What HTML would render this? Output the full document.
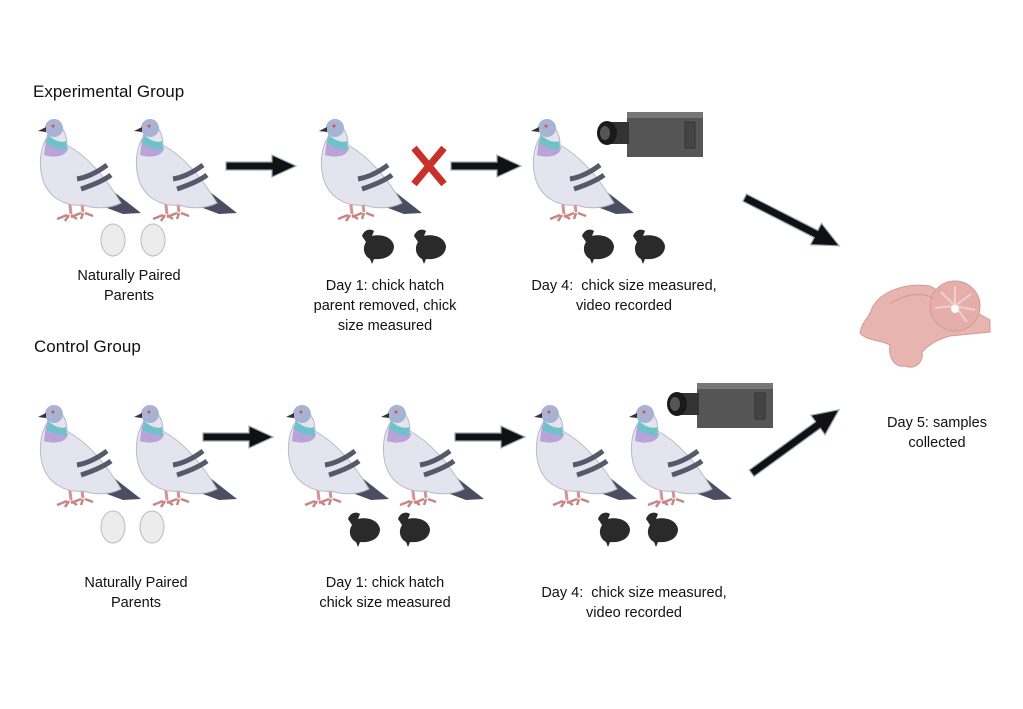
<!DOCTYPE html>
<html><head><style>
body{margin:0;background:#fff;width:1023px;height:709px;overflow:hidden;position:relative;font-family:"Liberation Sans",sans-serif;color:#111}
.t{position:absolute;font-size:14.5px;text-align:center;line-height:20px;white-space:nowrap;transform:translateX(-50%)}
.h{position:absolute;font-size:17px}
</style></head><body>
<svg width="1023" height="709" style="position:absolute;left:0;top:0">
<defs>
<g id="p">
 <path d="M30,98 l-10,4 M32,98 l-4,6 M34,98 l6,4 M44,96 l-10,4 M46,96 l-2,6 M48,96 l8,3" stroke="#c98585" stroke-width="2.5"/>
 <path d="M32,80 L34,97 M44,80 L46,95" stroke="#d99090" stroke-width="3"/>
 <path d="M58,60 L104,96 L86,97 L46,82 Z" fill="#4a4e60"/>
 <path d="M14,6 C26,6 30,18 30,28 C48,38 66,56 84,86 C72,92 58,92 46,88 C28,90 10,80 5,60 C1,42 5,28 10,20 Z" fill="#e4e4ee" stroke="#b8b8c8" stroke-width="1"/>
 <path d="M9,22 C16,30 24,32 31,30 C31,38 20,42 7,38 Z" fill="#b9a3d8"/>
 <path d="M11,18 C18,24 24,26 29,24 L30,32 C22,33 15,30 9,26 Z" fill="#6cc3c9"/>
 <circle cx="17" cy="11" r="9" fill="#a8b2d2"/>
 <path d="M9,10 L1,14 L9,15 Z" fill="#333"/>
 <circle cx="16" cy="9" r="1.5" fill="#c55"/>
 <path d="M40,62 C52,60 62,54 70,48 M44,72 C56,68 66,64 74,58" stroke="#55596a" stroke-width="5" fill="none"/>
</g>
<g id="c">
 <path d="M0,10 C2,4 8,2 12,5 L10,10 C18,8 30,10 32,20 C32,30 22,34 12,33 L10,38 L8,33 C2,30 0,22 4,16 Z" fill="#2a2a2a"/>
</g>
<g id="cam">
 <rect x="30" y="0" width="76" height="45" fill="#555"/>
 <rect x="30" y="0" width="76" height="6" fill="#777"/>
 <rect x="88" y="10" width="10" height="26" fill="#444" stroke="#333"/>
 <rect x="14" y="10" width="18" height="22" fill="#333"/>
 <ellipse cx="10" cy="21" rx="10" ry="12" fill="#1a1a1a"/>
 <ellipse cx="8" cy="21" rx="5" ry="7" fill="#555"/>
</g>
<g id="a"><path d="M0,-4 L-46,-4 L-46,4 L0,4 L0,11 L24,0 L0,-11 Z" fill="#111" stroke="#9ab" stroke-width="1.2"/></g>
</defs>
<use href="#p" x="37" y="117"/><use href="#p" x="133" y="117"/><use href="#p" x="318" y="117"/><use href="#p" x="530" y="117"/>
<use href="#p" x="37" y="403"/><use href="#p" x="133" y="403"/><use href="#p" x="285" y="403"/><use href="#p" x="380" y="403"/><use href="#p" x="533" y="403"/><use href="#p" x="628" y="403"/>
<g fill="#ececec" stroke="#bbb"><ellipse cx="113" cy="240" rx="12" ry="16"/><ellipse cx="153" cy="240" rx="12" ry="16"/><ellipse cx="113" cy="527" rx="12" ry="16"/><ellipse cx="152" cy="527" rx="12" ry="16"/></g>
<use href="#c" x="362" y="226"/><use href="#c" x="414" y="226"/><use href="#c" x="582" y="226"/><use href="#c" x="633" y="226"/>
<use href="#c" x="348" y="509"/><use href="#c" x="398" y="509"/><use href="#c" x="598" y="509"/><use href="#c" x="646" y="509"/>
<use href="#cam" x="597" y="112"/><use href="#cam" x="667" y="383"/>
<use href="#a" transform="translate(272,166)"/><use href="#a" transform="translate(497,166)"/>
<use href="#a" transform="translate(249,437)"/><use href="#a" transform="translate(501,437)"/>
<g transform="translate(816,234) rotate(27)"><path d="M0,-4 L-80,-4 L-80,4 L0,4 L0,12 L26,0 L0,-12 Z" fill="#111" stroke="#9ab" stroke-width="1.2"/></g>
<g transform="translate(818,425) rotate(-36)"><path d="M0,-4 L-82,-4 L-82,4 L0,4 L0,12 L26,0 L0,-12 Z" fill="#111" stroke="#9ab" stroke-width="1.2"/></g>
<path d="M414,148 L444,184 M444,148 L414,184" stroke="#c8302a" stroke-width="7"/>
<g fill="#e8b4b0" stroke="#d39a96">
<path d="M860,333 C862,320 870,318 872,308 C880,292 905,282 930,286 L990,320 L990,332 L950,336 C935,340 928,346 922,352 C924,362 915,370 905,366 C895,368 888,358 890,345 C880,340 865,340 860,333 Z"/>
<circle cx="955" cy="306" r="25" fill="#e5aeaa"/>
</g>
<g stroke="#f3cfcb" stroke-width="2" fill="none"><path d="M955,306 l0,-20 M955,306 l16,-12 M955,306 l20,4 M955,306 l12,16 M955,306 l-14,-14 M955,306 l-20,2"/></g>
<circle cx="955" cy="309" r="4" fill="#fff"/>
<path d="M890,304 C905,294 920,292 934,298" stroke="#d39a96" fill="none"/>
</svg>
<div class="h" style="left:33px;top:82px">Experimental Group</div>
<div class="h" style="left:34px;top:337px">Control Group</div>
<div class="t" style="left:129px;top:266px">Naturally Paired<br>Parents</div>
<div class="t" style="left:385px;top:276px">Day 1: chick hatch<br>parent removed, chick<br>size measured</div>
<div class="t" style="left:624px;top:276px">Day 4:&nbsp; chick size measured,<br>video recorded</div>
<div class="t" style="left:937px;top:413px">Day 5: samples<br>collected</div>
<div class="t" style="left:136px;top:573px">Naturally Paired<br>Parents</div>
<div class="t" style="left:385px;top:573px">Day 1: chick hatch<br>chick size measured</div>
<div class="t" style="left:634px;top:583px">Day 4:&nbsp; chick size measured,<br>video recorded</div>
</body></html>
